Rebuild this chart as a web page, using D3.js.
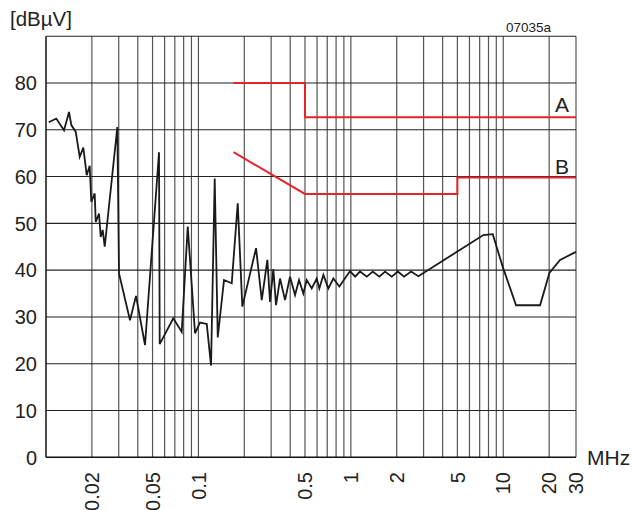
<!DOCTYPE html>
<html>
<head>
<meta charset="utf-8">
<script src="https://cdn.jsdelivr.net/npm/d3@7"></script>
<style>
  html, body { margin: 0; padding: 0; background: #fff; }
  svg { display: block; font-family: "Liberation Sans", Arial, sans-serif; }
</style>
</head>
<body>
<svg id="chart" width="633" height="510"></svg>
<script>
// ---- Data ----
const curveFreq = [0.01042, 0.01168, 0.01313, 0.01416, 0.01466, 0.01566, 0.01664, 0.01757, 0.0185, 0.01935,
  0.01983, 0.02087, 0.0212, 0.02227, 0.02285, 0.02355, 0.02428, 0.02937, 0.03013, 0.03557,
  0.03895, 0.04463, 0.05514, 0.05572, 0.0684, 0.0777, 0.0851, 0.0950, 0.1024, 0.1134,
  0.1210, 0.1279, 0.1339, 0.1472, 0.1654, 0.1811, 0.1941, 0.2388, 0.2603, 0.2833,
  0.2950, 0.3101, 0.3230, 0.3431, 0.370, 0.399, 0.4304, 0.4572, 0.4878, 0.5135,
  0.5539, 0.5974, 0.6213, 0.6602, 0.7119, 0.7677, 0.8405, 0.988, 1.066, 1.149,
  1.272, 1.393, 1.538, 1.677, 1.855, 2.032, 2.234, 2.483, 2.774, 7.40,
  8.53, 9.92, 12.13, 17.44, 20.07, 23.59, 30];
const curveLevel = [71.6, 72.4, 69.9, 73.8, 71.0, 69.6, 64.2, 66.2, 60.3, 62.3,
  54.6, 56.4, 50.3, 52.1, 47.1, 48.6, 45.0, 70.6, 39.3, 29.3,
  34.5, 24.0, 65.2, 24.2, 29.7, 26.8, 49.3, 26.5, 28.8, 28.5,
  19.6, 59.6, 25.6, 37.9, 37.2, 54.3, 32.2, 44.7, 33.6, 42.2,
  33.2, 40.2, 32.5, 38.2, 33.6, 38.6, 34.7, 37.9, 35.0, 37.9,
  36.1, 38.2, 36.1, 39.0, 36.1, 38.2, 36.5, 39.8, 38.6, 39.7,
  38.6, 39.7, 38.6, 39.7, 38.6, 39.7, 38.6, 39.7, 38.7, 47.5,
  47.7, 40.7, 32.5, 32.5, 39.4, 42.2, 43.9];

const limitAFreq = [0.17, 0.5, 0.5, 30];
const limitALevel = [80, 80, 72.7, 72.7];
const limitBFreq = [0.17, 0.5, 5, 5, 30];
const limitBLevel = [65.2, 56.3, 56.3, 59.8, 59.8];

const xGridValues = [0.02,0.03,0.04,0.05,0.06,0.07,0.08,0.09,0.1,0.2,0.3,0.4,0.5,0.6,0.7,0.8,0.9,1,2,3,4,5,6,7,8,9,10,20,30];
const xTickValues = [0.02, 0.05, 0.1, 0.5, 1, 2, 5, 10, 20, 30];
const xTickLabels = ["0.02", "0.05", "0.1", "0.5", "1", "2", "5", "10", "20", "30"];
const yTickValues = [0, 10, 20, 30, 40, 50, 60, 70, 80, 90];
const yTickLabels = ["0", "10", "20", "30", "40", "50", "60", "70", "80", ""];

// ---- Layout ----
const pLeft = 46, pRight = 576, pTop = 36.2, pBottom = 457.3;
const x = d3.scaleLog().domain([0.01, 30]).range([pLeft, pRight]);
const y = d3.scaleLinear().domain([0, 90]).range([pBottom, pTop]);

const svg = d3.select("#chart");

// vertical grid
svg.append("g").selectAll("line").data(xGridValues).join("line")
  .attr("x1", d => x(d)).attr("x2", d => x(d))
  .attr("y1", pTop).attr("y2", pBottom)
  .attr("stroke", "#555").attr("stroke-width", 1.2);

// horizontal grid
svg.append("g").selectAll("line").data(yTickValues.slice(1)).join("line")
  .attr("x1", pLeft).attr("x2", pRight)
  .attr("y1", d => y(d)).attr("y2", d => y(d))
  .attr("stroke", "#222").attr("stroke-width", 1.1);

// left and bottom axes
svg.append("line").attr("x1", pLeft).attr("x2", pLeft).attr("y1", pTop).attr("y2", pBottom)
  .attr("stroke", "#111").attr("stroke-width", 1.5);
svg.append("line").attr("x1", pLeft).attr("x2", pRight).attr("y1", pBottom).attr("y2", pBottom)
  .attr("stroke", "#111").attr("stroke-width", 1.5);

// y tick labels
svg.append("g").selectAll("text").data(yTickValues).join("text")
  .attr("x", 37).attr("y", d => y(d)).attr("dy", "0.36em")
  .attr("text-anchor", "end").attr("font-size", 20).attr("fill", "#222")
  .text((d, i) => yTickLabels[i]);

// x tick labels (rotated)
svg.append("g").selectAll("text").data(xTickValues).join("text")
  .attr("transform", d => `translate(${x(d)},472) rotate(-90)`)
  .attr("dy", "0.36em")
  .attr("text-anchor", "end").attr("font-size", 20).attr("fill", "#222")
  .text((d, i) => xTickLabels[i]);

// unit labels
svg.append("text").attr("x", 587).attr("y", 465).attr("font-size", 21).attr("fill", "#222").text("MHz");
svg.append("text").attr("x", 10).attr("y", 26).attr("font-size", 20.5).attr("fill", "#222").text("[dBµV]");
svg.append("text").attr("x", 506).attr("y", 32).attr("font-size", 13.5).attr("fill", "#222").text("07035a");

// limit lines
const line = d3.line().x(d => x(d[0])).y(d => y(d[1]));
const limA = limitAFreq.map((f, i) => [f, limitALevel[i]]);
const limB = limitBFreq.map((f, i) => [f, limitBLevel[i]]);
svg.append("path").attr("d", line(limA)).attr("fill", "none").attr("stroke", "#e5232b").attr("stroke-width", 2);
svg.append("path").attr("d", line(limB)).attr("fill", "none").attr("stroke", "#e5232b").attr("stroke-width", 2);
svg.append("text").attr("x", 555).attr("y", 112).attr("font-size", 21).attr("fill", "#222").text("A");
svg.append("text").attr("x", 555).attr("y", 174).attr("font-size", 21).attr("fill", "#222").text("B");

// measured curve
const pts = curveFreq.map((f, i) => [f, curveLevel[i]]);
svg.append("path").attr("d", line(pts)).attr("fill", "none")
  .attr("stroke", "#1a1a1a").attr("stroke-width", 1.8).attr("stroke-linejoin", "miter");
</script>
</body>
</html>
